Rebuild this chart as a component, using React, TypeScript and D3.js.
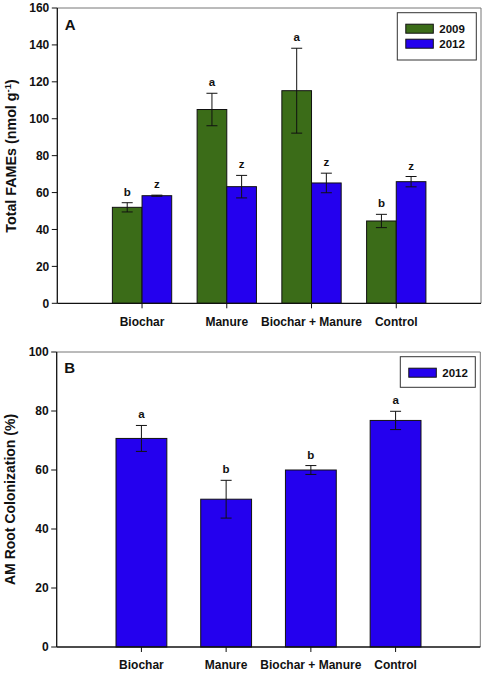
import React from "react";
import * as d3 from "d3";

const categories = ["Biochar", "Manure", "Biochar + Manure", "Control"];
const famesYears = ["2009", "2012"];
const fames2009 = [52, 105, 115.2, 44.6];
const fames2009Err = [2.5, 8.8, 23, 3.6];
const fames2012 = [58.3, 63.2, 65.2, 65.9];
const fames2012Err = [0.3, 6.1, 5.3, 2.8];
const fames2009Letters = ["b", "a", "a", "b"];
const fames2012Letters = ["z", "z", "z", "z"];
const famesTicks = [0, 20, 40, 60, 80, 100, 120, 140, 160];

const amYear = "2012";
const amValues = [70.7, 50.1, 60, 76.8];
const amErr = [4.4, 6.4, 1.5, 3.1];
const amLetters = ["a", "b", "b", "a"];
const amTicks = [0, 20, 40, 60, 80, 100];

const GREEN = "#3b6c18";
const BLUE = "#2400ee";
const FONT = "Arial, 'Liberation Sans', sans-serif";

type Series = { values: number[]; err: number[]; letters: string[]; color: string };

function Panel(props: {
  top: number;
  bottom: number;
  left: number;
  right: number;
  yMax: number;
  ticks: number[];
  series: Series[];
  groupFrac: number;
  label: string;
  labelY: number;
  title: React.ReactNode;
  legend: { names: string[]; colors: string[]; box: [number, number, number, number] };
  xLabelOffset: number;
}) {
  const { top, bottom, left, right, yMax, ticks, series, groupFrac, label, labelY, title, legend, xLabelOffset } = props;
  const y = d3.scaleLinear().domain([0, yMax]).range([bottom, top]);
  const x = d3.scaleLinear().domain([0, categories.length + 1]).range([left, right]);
  const slot = x(1) - x(0);
  const groupW = slot * groupFrac;
  const barW = groupW / series.length;
  const [bx0, bx1, by0, by1] = legend.box;
  const rowH = series.length > 1 ? 15 : 0;
  return (
    <g fontFamily={FONT} fontWeight="bold">
      <line x1={left} x2={right} y1={top} y2={top} stroke="#777" strokeWidth={1} />
      <line x1={right} x2={right} y1={top} y2={bottom} stroke="#777" strokeWidth={1} />
      {categories.map((c, i) =>
        series.map((s, j) => {
          const x0 = x(i + 1) - groupW / 2 + j * barW;
          const v = s.values[i];
          const e = s.err[i];
          const cx = x0 + barW / 2;
          return (
            <g key={c + j}>
              <rect x={x0} y={y(v)} width={barW} height={y(0) - y(v)} fill={s.color} stroke="#111" strokeWidth={1} />
              <line x1={cx} x2={cx} y1={y(v + e)} y2={y(v - e)} stroke="#111" strokeWidth={1} />
              <line x1={cx - 5.5} x2={cx + 5.5} y1={y(v + e)} y2={y(v + e)} stroke="#111" strokeWidth={1} />
              <line x1={cx - 5.5} x2={cx + 5.5} y1={y(v - e)} y2={y(v - e)} stroke="#111" strokeWidth={1} />
              <text x={cx} y={y(v + e) - 7} textAnchor="middle" fontSize={11.5} fill="#111">
                {s.letters[i]}
              </text>
            </g>
          );
        })
      )}
      <line x1={left} x2={left} y1={top} y2={bottom} stroke="#111" strokeWidth={1.3} />
      <line x1={left} x2={right} y1={bottom} y2={bottom} stroke="#111" strokeWidth={1.3} />
      {ticks.map((t) => (
        <g key={t}>
          <line x1={left - 5.5} x2={left} y1={y(t)} y2={y(t)} stroke="#111" strokeWidth={1} />
          <text x={left - 8} y={y(t)} dy="0.35em" textAnchor="end" fontSize={12} fill="#111">
            {t}
          </text>
        </g>
      ))}
      {categories.map((c, i) => (
        <g key={c}>
          <line x1={x(i + 1)} x2={x(i + 1)} y1={bottom} y2={bottom + 5} stroke="#111" strokeWidth={1} />
          <text x={x(i + 1)} y={bottom + xLabelOffset} textAnchor="middle" fontSize={12} fill="#111">
            {c}
          </text>
        </g>
      ))}
      <text x={left + 7.5} y={labelY} fontSize={15} fill="#111">
        {label}
      </text>
      {title}
      <rect x={bx0} y={by0} width={bx1 - bx0} height={by1 - by0} fill="white" stroke="#333" strokeWidth={1} />
      {legend.names.map((n, k) => {
        const sy = by0 + 11.5 + k * rowH;
        return (
          <g key={n}>
            <rect x={bx0 + 8.5} y={sy} width={27.5} height={9} fill={legend.colors[k]} stroke="#111" strokeWidth={1} />
            <text x={bx0 + 42} y={sy + 4.5} dy="0.36em" fontSize={11.5} fill="#111">
              {n}
            </text>
          </g>
        );
      })}
    </g>
  );
}

export default function App() {
  const seriesA: Series[] = [
    { values: fames2009, err: fames2009Err, letters: fames2009Letters, color: GREEN },
    { values: fames2012, err: fames2012Err, letters: fames2012Letters, color: BLUE },
  ];
  const seriesB: Series[] = [{ values: amValues, err: amErr, letters: amLetters, color: BLUE }];
  return (
    <svg width={486} height={674} style={{ position: "absolute", left: 0, top: 0, background: "white" }}>
      <rect width={486} height={674} fill="white" />
      <Panel
        top={8}
        bottom={303.3}
        left={57.3}
        right={481}
        yMax={160}
        ticks={famesTicks}
        series={seriesA}
        groupFrac={0.7}
        label="A"
        labelY={30}
        xLabelOffset={23}
        legend={{ names: famesYears, colors: [GREEN, BLUE], box: [397.3, 476.3, 12.7, 60] }}
        title={
          <text
            transform="translate(16,156) rotate(-90)"
            textAnchor="middle"
            fontSize={14.3}
            fontFamily={FONT}
            fontWeight="bold"
            fill="#111"
          >
            Total FAMEs (nmol g
            <tspan dy="-5" fontSize={9.5}>-1</tspan>
            <tspan dy="5">)</tspan>
          </text>
        }
      />
      <Panel
        top={352}
        bottom={647}
        left={56.7}
        right={480.3}
        yMax={100}
        ticks={amTicks}
        series={seriesB}
        groupFrac={0.6}
        label="B"
        labelY={373}
        xLabelOffset={21.5}
        legend={{ names: [amYear], colors: [BLUE], box: [400.3, 475.3, 356.7, 387.3] }}
        title={
          <text
            transform="translate(15,499.5) rotate(-90)"
            textAnchor="middle"
            fontSize={14}
            fontFamily={FONT}
            fontWeight="bold"
            fill="#111"
          >
            AM Root Colonization (%)
          </text>
        }
      />
    </svg>
  );
}
